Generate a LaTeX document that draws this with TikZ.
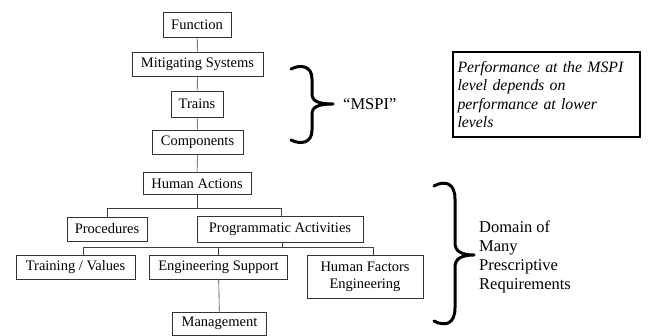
\documentclass[tikz,border=0pt]{standalone}
\usepackage{fontspec}
\setmainfont{Liberation Serif}
\begin{document}
\begin{tikzpicture}[x=1pt,y=-1pt,
  lvl/.style={draw=black!80, line width=0.6pt, inner sep=0pt, align=center,
    font=\fontsize{14.5}{17}\selectfont},
  link/.style={draw=black!75, line width=0.6pt},
  curly/.style={line width=3pt, line cap=round, line join=round},
  side/.style={inner sep=0pt, align=left, font=\fontsize{16.5}{19}\selectfont}]
\useasboundingbox (0,0) rectangle (648,336);

% hierarchy of levels
\node[lvl, minimum width=68, minimum height=25] (fn) at (197,24.5) {Function};
\node[lvl, minimum width=131, minimum height=24] (ms) at (197.5,64) {Mitigating Systems};
\node[lvl, minimum width=52, minimum height=26] (tr) at (197,104) {Trains};
\node[lvl, minimum width=91, minimum height=24] (co) at (197.5,142) {Components};
\node[lvl, minimum width=108, minimum height=21.5] (ha) at (197,183.5) {Human Actions};
\node[lvl, minimum width=80, minimum height=24] (pr) at (107,229) {Procedures};
\node[lvl, minimum width=166, minimum height=26] (pa) at (280,229) {Programmatic Activities};
\node[lvl, minimum width=119, minimum height=24] (tv) at (75.5,267) {Training / Values};
\node[lvl, minimum width=138, minimum height=24] (es) at (218.5,267) {Engineering Support};
\node[lvl, minimum width=116, minimum height=43] (hf) at (365,276.5) {Human Factors\\Engineering};
\node[lvl, minimum width=94, minimum height=23] (mg) at (219.5,323.5) {Management};

% connectors
\draw[link] (fn) -- (ms);
\draw[link] (ms) -- (tr);
\draw[link] (tr) -- (co);
\draw[link] (co) -- (ha);
\coordinate (j1) at (197,208);
\draw[link] (ha) -- (j1);
\draw[link] (j1) -| (pr.north);
\draw[link] (j1) -| ([xshift=1pt]pa.north);
\coordinate (j2) at (282,247);
\draw[link] ([xshift=2pt]pa.south) -- (j2);
\draw[link] (j2) -| ([xshift=7.5pt]tv.north);
\draw[link] (j2) -| (es.north);
\draw[link] (j2) -| ([xshift=8pt]hf.north);
\draw[link] (es) -- (mg);

% brace and label for the MSPI levels
\draw[curly] (291,69) .. controls (301,64) and (312,66) .. (312,79)
  -- (312,94) .. controls (312,101) and (318,104) .. (333,104)
  .. controls (318,104) and (312,107) .. (312,114)
  -- (312,130) .. controls (312,143) and (301,145) .. (291,140);
\node[side, anchor=west] (mspi) at (343,104) {``MSPI''};

% note box
\node[draw=black, line width=1.3pt, inner sep=0pt, minimum width=187, minimum height=85,
  text width=178, align=left, font=\fontsize{15.8}{18.3}\selectfont\itshape]
  (note) at (546.5,94.5) {Performance at the MSPI\\level depends on\\performance at lower\\levels};

% brace and label for the prescriptive domain
\draw[curly] (434,186) .. controls (445,180) and (455,183) .. (455,199)
  -- (455,243) .. controls (455,251) and (461,255) .. (474,255)
  .. controls (461,255) and (455,259) .. (455,267)
  -- (455,308) .. controls (455,324) and (445,327) .. (434,321);
\node[side, anchor=west] (dom) at (479,257) {Domain of\\Many\\Prescriptive\\Requirements};
\end{tikzpicture}
\end{document}
